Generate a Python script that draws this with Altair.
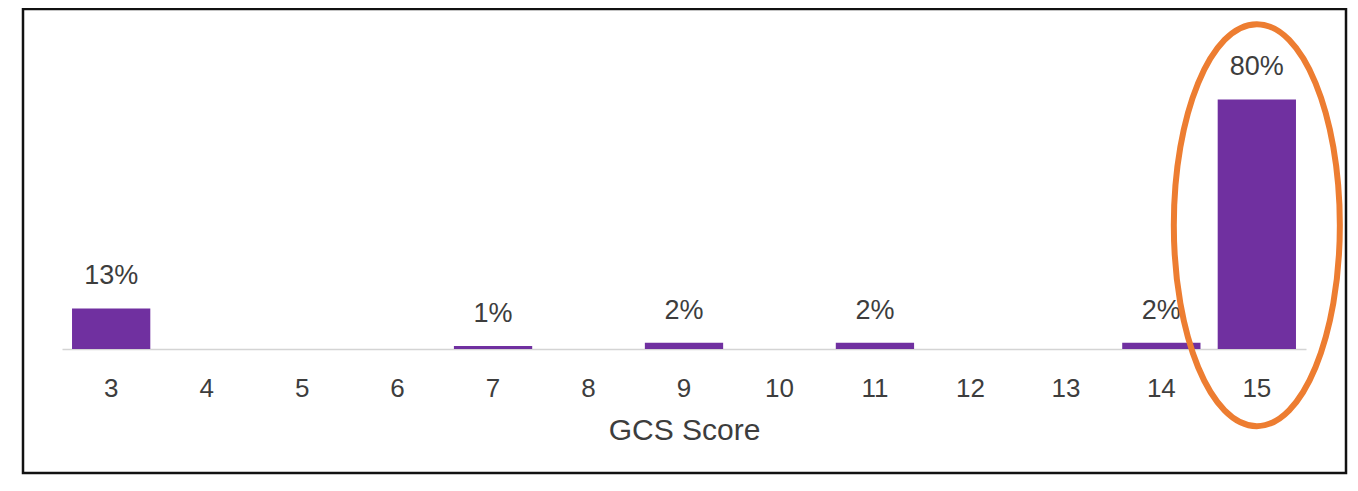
import altair as alt
import pandas as pd

scores = [3, 4, 5, 6, 7, 8, 9, 10, 11, 12, 13, 14, 15]
percents = [13, 0, 0, 0, 1, 0, 2, 0, 2, 0, 0, 2, 80]

df = pd.DataFrame({"score": scores, "pct": percents})
df["label"] = [f"{p}%" if p > 0 else "" for p in percents]

FONT = "Liberation Sans"
TXT = "#3d3d3d"

x_enc = alt.X(
    "score:O",
    sort=scores,
    scale=alt.Scale(paddingInner=0.18, paddingOuter=0.105),
    axis=alt.Axis(
        title="GCS Score",
        labelAngle=0,
        ticks=False,
        domainColor="#d4d4d4",
        domainWidth=1.5,
        labelFont=FONT,
        labelFontSize=26,
        labelColor=TXT,
        labelPadding=26,
        titleFont=FONT,
        titleFontSize=30,
        titleFontWeight="normal",
        titleColor=TXT,
        titlePadding=14,
        grid=False,
    ),
)
y_scale = alt.Scale(domain=[0, 100])
y_enc = alt.Y("pct:Q", scale=y_scale, axis=None)

base = alt.Chart(df)

bars = base.mark_bar(color="#7030A0").encode(x=x_enc, y=y_enc)

labels = base.mark_text(
    baseline="alphabetic", dy=-24, font=FONT, fontSize=27, color=TXT
).encode(x=alt.X("score:O", sort=scores), y=y_enc, text="label:N")

ell = alt.Chart(pd.DataFrame({"score": [15], "yc": [39.7]})).mark_point(
    shape="M0,-1 C0.228,-1 0.413,-0.552 0.413,0 C0.413,0.552 0.228,1 0,1 "
    "C-0.228,1 -0.413,0.552 -0.413,0 C-0.413,-0.552 -0.228,-1 0,-1 Z",
    size=161604,
    filled=False,
    stroke="#ED7D31",
    strokeWidth=6,
    opacity=1,
).encode(
    x=alt.X("score:O", sort=scores),
    y=alt.Y("yc:Q", scale=y_scale),
)

border = alt.Chart(pd.DataFrame({"a": [0]})).mark_rect(
    fill=None, stroke="#111111", strokeWidth=2.5
).encode(
    x=alt.value(-39), x2=alt.value(1284), y=alt.value(-28), y2=alt.value(436)
)

chart = (
    alt.layer(bars, labels, ell, border)
    .properties(
        width=1244,
        height=312,
        autosize=alt.AutoSizeParams(type="none"),
        padding={"left": 54, "top": 29, "right": 44, "bottom": 132},
    )
    .configure(background="white")
    .configure_view(stroke="transparent", strokeWidth=0)
)

chart.save("out.html", embed_options={"renderer": "svg", "actions": False})
